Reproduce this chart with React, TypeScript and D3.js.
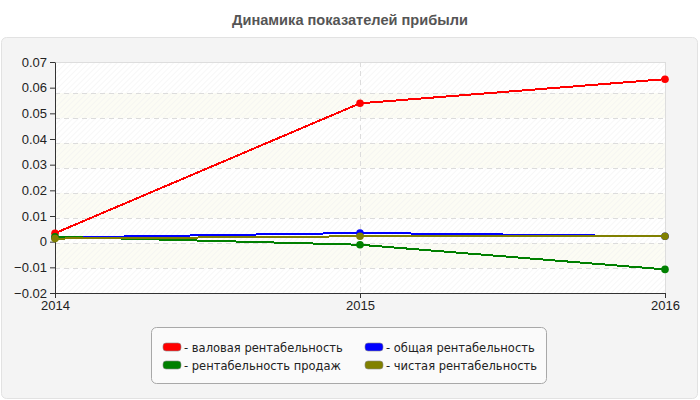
import { useEffect, useRef } from "react";
import * as d3 from "d3";

const years = ["2014", "2015", "2016"];
const grossMargin = [0.0033, 0.0539, 0.0633];
const totalMargin = [0.0016, 0.0034, 0.0021];
const salesMargin = [0.0019, -0.0012, -0.0108];
const netMargin = [0.0012, 0.0021, 0.0021];
const yTicks = [-0.02, -0.01, 0, 0.01, 0.02, 0.03, 0.04, 0.05, 0.06, 0.07];

const series = [
  { name: "валовая рентабельность", color: "#ff0000", values: grossMargin },
  { name: "общая рентабельность", color: "#0000ff", values: totalMargin },
  { name: "рентабельность продаж", color: "#008000", values: salesMargin },
  { name: "чистая рентабельность", color: "#808000", values: netMargin },
];

export default function App() {
  const svgRef = useRef<SVGSVGElement>(null);

  useEffect(() => {
    document.body.style.margin = "0";
    const svg = d3.select(svgRef.current);
    svg.selectAll("*").remove();

    const width = 700, height = 400;
    const margin = { top: 62, right: 35, bottom: 107, left: 55 };
    const W = width - margin.left - margin.right;
    const H = height - margin.top - margin.bottom;
    const font = "'Liberation Sans', Arial, sans-serif";

    const x = d3.scalePoint<string>().domain(years).range([0, W]);
    const y = d3.scaleLinear().domain([-0.02, 0.07]).range([H, 0]);
    // the grid is spaced a little tighter than the axis ticks in the original
    const yGrid = y.copy().range([H, 6]);

    const defs = svg.append("defs");
    const pat = defs.append("pattern")
      .attr("id", "hatch").attr("patternUnits", "userSpaceOnUse")
      .attr("width", 4).attr("height", 4)
      .attr("patternTransform", "rotate(45)");
    pat.append("line")
      .attr("x1", 0).attr("y1", 0).attr("x2", 0).attr("y2", 4)
      .attr("stroke", "#efefef").attr("stroke-width", 1);

    // panel
    svg.append("rect")
      .attr("x", 1.5).attr("y", 37.5).attr("width", 696).attr("height", 361)
      .attr("rx", 5).attr("fill", "#f4f4f4").attr("stroke", "#e2e2e2");

    svg.append("text")
      .attr("x", width / 2).attr("y", 25)
      .attr("text-anchor", "middle")
      .attr("font-family", font).attr("font-weight", "bold").attr("font-size", 14.6)
      .attr("fill", "#555")
      .text("Динамика показателей прибыли");

    const g = svg.append("g").attr("transform", `translate(${margin.left},${margin.top})`);

    // plot background: hatch with alternating tinted bands
    g.append("rect").attr("width", W).attr("height", H).attr("fill", "#ffffff");
    const bandTops = yTicks.slice(0, -1).filter((_, i) => i % 2 === 1);
    g.selectAll(".band")
      .data(bandTops)
      .enter().append("rect")
      .attr("x", 0).attr("width", W)
      .attr("y", d => yGrid(d + 0.01))
      .attr("height", d => yGrid(d) - yGrid(d + 0.01))
      .attr("fill", "#fcfcf4");
    g.append("rect").attr("width", W).attr("height", H).attr("fill", "url(#hatch)");
    g.append("rect")
      .attr("x", 0.5).attr("y", 0.5).attr("width", W).attr("height", H)
      .attr("fill", "none").attr("stroke", "#dddddd");

    // grid
    g.selectAll(".hg")
      .data(yTicks.slice(1, -1))
      .enter().append("line")
      .attr("x1", 0).attr("x2", W)
      .attr("y1", d => Math.round(yGrid(d)) + 0.5).attr("y2", d => Math.round(yGrid(d)) + 0.5)
      .attr("stroke", "#dcdcdc").attr("stroke-dasharray", "5,4");
    g.selectAll(".vg")
      .data(years.slice(1, -1))
      .enter().append("line")
      .attr("x1", d => Math.round(x(d)!) + 0.5).attr("x2", d => Math.round(x(d)!) + 0.5)
      .attr("y1", 0).attr("y2", H)
      .attr("stroke", "#dcdcdc").attr("stroke-dasharray", "5,4");

    // axes
    const styleAxis = (ax: d3.Selection<SVGGElement, unknown, null, undefined>) => {
      ax.select(".domain").attr("stroke", "#333");
      ax.selectAll(".tick line").attr("stroke", "#333");
      ax.selectAll(".tick text").attr("fill", "#222").attr("font-size", 13).attr("font-family", font);
    };
    g.append("g").attr("transform", `translate(0,${H})`)
      .call(d3.axisBottom(x).tickSize(5).tickSizeOuter(0))
      .call(styleAxis);
    g.append("g")
      .call(d3.axisLeft(y).tickValues(yTicks).tickSize(5).tickSizeOuter(0)
        .tickFormat(d => d3.format("")(+(+d).toFixed(2))))
      .call(styleAxis);

    // lines
    const line = d3.line<number>()
      .x((_, i) => x(years[i])!)
      .y(d => y(d));

    series.forEach(s => {
      g.append("path")
        .datum(s.values)
        .attr("d", line)
        .attr("fill", "none")
        .attr("stroke", s.color)
        .attr("stroke-width", 2)
        .attr("shape-rendering", "crispEdges");
      g.selectAll(null)
        .data(s.values)
        .enter().append("circle")
        .attr("cx", (_, i) => x(years[i])!)
        .attr("cy", d => y(d))
        .attr("r", 3.8)
        .attr("fill", s.color);
    });

    // legend
    const lg = svg.append("g").attr("transform", "translate(151,327)");
    lg.append("rect")
      .attr("x", 0.5).attr("y", 0.5).attr("width", 395).attr("height", 56)
      .attr("rx", 5).attr("fill", "#fafafa").attr("stroke", "#a8a8a8");
    series.forEach((s, k) => {
      const col = k % 2, row = Math.floor(k / 2);
      const item = lg.append("g").attr("transform", `translate(${12 + col * 202},${16 + row * 18})`);
      item.append("rect")
        .attr("x", 0).attr("y", 0).attr("width", 18).attr("height", 8)
        .attr("rx", 3).attr("fill", s.color).attr("stroke", "#888").attr("stroke-width", 0.6);
      item.append("text")
        .attr("x", 21).attr("y", 8.5)
        .attr("font-family", "'DejaVu Sans', Verdana, sans-serif").attr("font-size", 11.5)
        .attr("fill", "#222")
        .text(`- ${s.name}`);
    });
  }, []);

  return <svg ref={svgRef} width={700} height={400} style={{ display: "block" }} />;
}
